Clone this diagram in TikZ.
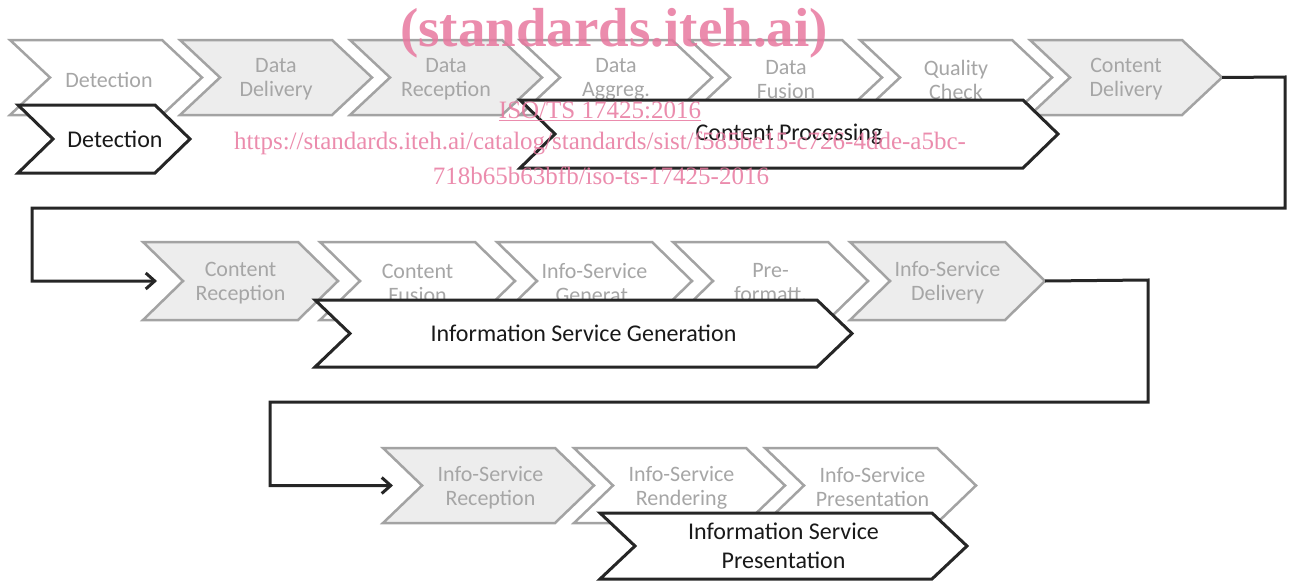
\documentclass[tikz,border=0pt]{standalone}
\usepackage{fontspec}
\setmainfont{Carlito}
\newfontfamily\wmfont{Liberation Serif}
\usetikzlibrary{arrows.meta}

\definecolor{chevline}{HTML}{A3A3A3}
\definecolor{chevfill}{HTML}{EDEDED}
\definecolor{chevtext}{HTML}{A6A6A6}
\definecolor{wmpink}{HTML}{E8789F}

% name, left x, top y, width, height, depth, path style, text style, text
\newcommand{\chevstep}[9]{%
  \draw[#7] (#2,#3) -- ({#2+#4-#6},#3) -- ({#2+#4},{#3+#5/2}) -- ({#2+#4-#6},{#3+#5})
    -- (#2,{#3+#5}) -- ({#2+#6},{#3+#5/2}) -- cycle;
  \coordinate (#1-notch) at ({#2+#6},{#3+#5/2});
  \coordinate (#1-tip) at ({#2+#4},{#3+#5/2});
  \node[#8] (#1) at ({#2+#4/2},{#3+#5/2}) {#9};
}

\tikzset{
  sub/.style={draw=chevline, fill=white, line width=2.5pt},
  subg/.style={sub, fill=chevfill},
  sub text/.style={text=chevtext, align=center, yshift=-2pt, font=\fontsize{22}{24}\selectfont},
  main/.style={draw=black!85, fill=white, line width=3pt},
  main text/.style={text=black!90, align=center, font=\fontsize{24}{29}\selectfont},
  link/.style={draw=black!85, line width=3pt},
  flow/.style={link, -{Straight Barb[length=9pt,width=16pt]}},
  wm/.style={text=wmpink, text opacity=0.85, font=\wmfont\fontsize{25}{25}\selectfont}
}

\begin{document}
\begin{tikzpicture}[x=1pt,y=-1pt]
        \useasboundingbox (0,0) rectangle (1291,581);
        % first row
        \chevstep{det}{10}{40}{192}{75}{40}{sub}{sub text, xshift=3pt}{Detection}
        \chevstep{ddel}{180}{40}{192}{75}{40}{subg}{sub text}{Data\\Delivery}
        \chevstep{drec}{350}{40}{192}{75}{40}{subg}{sub text}{Data\\Reception}
        \chevstep{dagg}{520}{40}{192}{75}{40}{sub}{sub text}{Data\\Aggreg.}
        \chevstep{dfus}{690}{40}{192}{75}{40}{sub}{sub text}{Data\\Fusion}
        \chevstep{qchk}{860}{40}{192}{75}{40}{sub}{sub text}{Quality\\Check}
        \chevstep{cdel}{1030}{40}{192}{75}{40}{subg}{sub text}{Content\\Delivery}
        \chevstep{detection}{18}{105}{172}{68}{35}{main}{main text, xshift=11pt}{Detection}
        \chevstep{cproc}{520}{100}{538}{68}{35}{main}{main text}{Content Processing}
        % second row
        \chevstep{crec}{143}{242}{195}{78}{40}{subg}{sub text}{Content\\Reception}
        \chevstep{cfus}{320}{242}{195}{78}{40}{sub}{sub text}{Content\\Fusion}
        \chevstep{isgen}{497}{242}{195}{78}{40}{sub}{sub text}{Info-Service\\Generat.}
        \chevstep{prefm}{673}{242}{195}{78}{40}{sub}{sub text}{Pre-\\formatt.}
        \chevstep{isdel}{850}{242}{195}{78}{40}{subg}{sub text}{Info-Service\\Delivery}
        \chevstep{isg}{315}{300}{537}{67}{35}{main}{main text}{Information Service Generation}
        % third row
        \chevstep{isrec}{383}{448}{211}{75}{39}{subg}{sub text, xshift=2pt}{Info-Service\\Reception}
        \chevstep{isrend}{574}{448}{211}{75}{39}{sub}{sub text, xshift=2pt}{Info-Service\\Rendering}
        \chevstep{ispres}{765}{448}{211}{75}{39}{sub}{sub text, xshift=2pt}{Info-Service\\Presentation}
        \chevstep{isp}{600}{513}{367}{66}{35}{main}{main text}{Information Service\\Presentation}
        % connectors
        \draw[flow] (cdel-tip) -- (1285,77) |- (32,208) |- ([xshift=-26pt]crec-notch);
        \draw[flow] (isdel-tip) -- (1148,280) |- (270,402) |- ([xshift=-29pt]isrec-notch);
        % watermark
        \node[wm, font=\wmfont\bfseries\fontsize{55}{55}\selectfont] (wmsite) at (614,33) {(standards.iteh.ai)};
        \node[wm] (wmiso) at (600,111) {\underline{ISO/TS 17425:2016}};
        \node[wm] (wmurl) at (600,143) {https://standards.iteh.ai/catalog/standards/sist/f585be15-c726-4dde-a5bc-};
        \node[wm] (wmurl2) at (601,176) {718b65b63bfb/iso-ts-17425-2016};
\end{tikzpicture}
\end{document}
